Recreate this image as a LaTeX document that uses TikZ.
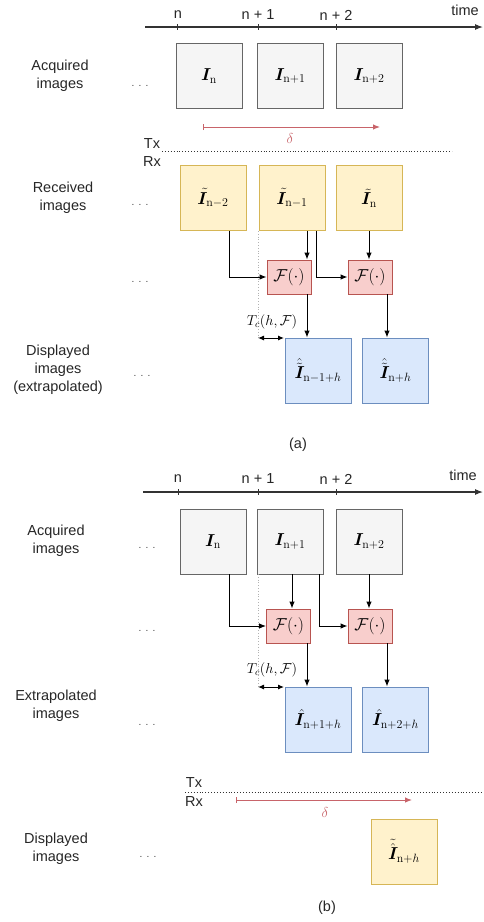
\documentclass[tikz,border=0pt]{standalone}
\usepackage[no-math]{fontspec}
\setmainfont{Liberation Sans}
\usepackage{amsmath,bm}
\usetikzlibrary{arrows.meta}
\definecolor{grayfill}{HTML}{F5F5F5}
\definecolor{grayline}{HTML}{666666}
\definecolor{yelfill}{HTML}{FFF2CC}
\definecolor{yelline}{HTML}{D6B656}
\definecolor{redfill}{HTML}{F8CECC}
\definecolor{redline}{HTML}{B85450}
\definecolor{bluefill}{HTML}{DAE8FC}
\definecolor{blueline}{HTML}{6C8EBF}
\definecolor{deltacol}{HTML}{C8646A}
\newcommand{\bI}{\boldsymbol{I}}
\tikzset{
  img/.style={draw, line width=0.9pt, minimum width=66pt, minimum height=65pt, inner sep=0pt, font=\fontsize{18}{21}\selectfont},
  acq/.style={img, fill=grayfill, draw=grayline},
  rec/.style={img, fill=yelfill, draw=yelline},
  ext/.style={img, fill=bluefill, draw=blueline},
  fbox/.style={draw=redline, fill=redfill, line width=0.9pt, minimum width=44pt, minimum height=34pt, inner sep=0pt, font=\fontsize{17}{20}\selectfont},
  lbl/.style={align=center, font=\fontsize{14.5}{18}\selectfont, text=black!85},
  tick/.style={font=\fontsize{14.5}{17}\selectfont, text=black!85},
  dots/.style={inner sep=0pt, text=black!75},
  conn/.style={line width=1pt, -{Latex[length=7pt,width=5.5pt]}},
  tline/.style={line width=1.1pt, black!80, -{Latex[length=8pt,width=6pt]}},
  delta/.style={line width=1pt, deltacol, {Bar[width=6pt]}-{Latex[length=7pt,width=5.5pt]}},
  txrx/.style={line width=0.9pt, dotted, black!80},
  guide/.style={line width=0.8pt, dotted, black!30},
  tcarrow/.style={line width=1pt, {Latex[length=6pt,width=5pt]}-{Latex[length=6pt,width=5pt]}},
  math/.style={font=\fontsize{14.5}{16}\selectfont}
}
\newcommand{\dd}{\makebox[17pt]{.\hfill.\hfill.}}
\begin{document}
\begin{tikzpicture}[x=1pt,y=-1pt]
\path[use as bounding box] (0,0) rectangle (483,922);

% ================= Panel (a) =================
\coordinate (ta0) at (145,27);
\coordinate (ta1) at (483,27);
\draw[tline] (ta0) -- (ta1);
\foreach \xx in {177,258,336} \draw[line width=1pt, black!80] (\xx,24) -- (\xx,30);
\node[tick] (tna) at (178,15) {n};
\node[tick] (tn1a) at (258,15) {n + 1};
\node[tick] (tn2a) at (336,15) {n + 2};
\node[tick] (timea) at (465,10) {time};

\node[lbl] (labacqa) at (60,76) {Acquired\\images};
\node[dots] (d1a) at (140,86) {\dd};
\node[acq] (a1) at (209,76) {$\bI_{\mathrm{n}}$};
\node[acq] (a2) at (290,76) {$\bI_{\mathrm{n+1}}$};
\node[acq] (a3) at (369,76) {$\bI_{\mathrm{n+2}}$};

\coordinate (dla0) at (203,127);
\coordinate (dla1) at (380,127);
\draw[delta] (dla0) -- (dla1);
\node[math, text=deltacol] (deltaa) at (290,138) {$\delta$};

\node[tick] (txa) at (152,144) {Tx};
\node[tick] (rxa) at (152,162) {Rx};
\coordinate (tra0) at (162,151);
\coordinate (tra1) at (452,151);
\draw[txrx] (tra0) -- (tra1);

\node[lbl] (labreca) at (63,198) {Received\\images};
\node[dots] (d2a) at (140,205) {\dd};
\node[rec] (r1) at (213,198) {$\tilde{\bI}_{\mathrm{n-2}}$};
\node[rec] (r2) at (292,198) {$\tilde{\bI}_{\mathrm{n-1}}$};
\node[rec] (r3) at (369,198) {$\tilde{\bI}_{\mathrm{n}}$};

\node[dots] (d3a) at (140,282) {\dd};
\node[fbox] (f1) at (289,277) {$\mathcal{F}(\cdot)$};
\node[fbox] (f2) at (370,277) {$\mathcal{F}(\cdot)$};

\coordinate (xa1) at (229,0);
\coordinate (xa2) at (307,0);
\coordinate (xa3) at (316,0);
\coordinate (xa4) at (387,0);
\draw[conn] (r1.south -| xa1) |- (f1.west);
\draw[conn] (r2.south -| xa2) -- (f1.north -| xa2);
\draw[conn] (r2.south -| xa3) |- (f2.west);
\draw[conn] (r3.south) -- (r3.south |- f2.north);

\node[ext] (e1) at (318,370.5) {$\hat{\tilde{\bI}}_{\mathrm{n-1+}h}$};
\node[ext] (e2) at (395.5,370.5) {$\hat{\tilde{\bI}}_{\mathrm{n+}h}$};
\draw[conn] (f1.south -| xa2) -- (e1.north -| xa2);
\draw[conn] (f2.south -| xa4) -- (e2.north -| xa4);

\coordinate (ga0) at (258,231);
\coordinate (ga1) at (258,338);
\draw[guide] (ga0) -- (ga1);
\coordinate (tca1) at (284,338);
\draw[tcarrow] (ga1) -- (tca1);
\node[math] (tcla) at (272,322) {$T_c(h,\mathcal{F})$};

\node[lbl] (labdispa) at (58,370) {Displayed\\images\\(extrapolated)};
\node[dots] (d4a) at (142,376) {\dd};
\node[lbl] (capa) at (298,445) {(a)};

% ================= Panel (b) =================
\coordinate (tb0) at (143,492);
\coordinate (tb1) at (483,492);
\draw[tline] (tb0) -- (tb1);
\foreach \xx in {178,258,336} \draw[line width=1pt, black!80] (\xx,489) -- (\xx,495);
\node[tick] (tnb) at (178,479) {n};
\node[tick] (tn1b) at (258,479) {n + 1};
\node[tick] (tn2b) at (336,479) {n + 2};
\node[tick] (timeb) at (463,475) {time};

\node[lbl] (labacqb) at (56,541) {Acquired\\images};
\node[dots] (d1b) at (147,548) {\dd};
\node[acq] (b1) at (213,541.5) {$\bI_{\mathrm{n}}$};
\node[acq] (b2) at (290,541.5) {$\bI_{\mathrm{n+1}}$};
\node[acq] (b3) at (369,541.5) {$\bI_{\mathrm{n+2}}$};

\node[dots] (d2b) at (147,631) {\dd};
\node[fbox] (g1) at (288.5,626) {$\mathcal{F}(\cdot)$};
\node[fbox] (g2) at (370,626) {$\mathcal{F}(\cdot)$};

\coordinate (xb1) at (229,0);
\coordinate (xb2) at (292,0);
\coordinate (xb3) at (319,0);
\coordinate (xb4) at (307,0);
\coordinate (xb5) at (387,0);
\draw[conn] (b1.south -| xb1) |- (g1.west);
\draw[conn] (b2.south -| xb2) -- (g1.north -| xb2);
\draw[conn] (b2.south -| xb3) |- (g2.west);
\draw[conn] (b3.south) -- (b3.south |- g2.north);

\node[ext] (h1) at (318,719.5) {$\hat{\bI}_{\mathrm{n+1+}h}$};
\node[ext] (h2) at (395.5,719.5) {$\hat{\bI}_{\mathrm{n+2+}h}$};
\draw[conn] (g1.south -| xb4) -- (h1.north -| xb4);
\draw[conn] (g2.south -| xb5) -- (h2.north -| xb5);

\coordinate (gb0) at (258,574);
\coordinate (gb1) at (258,687);
\draw[guide] (gb0) -- (gb1);
\coordinate (tcb1) at (284,687);
\draw[tcarrow] (gb1) -- (tcb1);
\node[math] (tclb) at (272,670) {$T_c(h,\mathcal{F})$};

\node[lbl] (labextb) at (56,706) {Extrapolated\\images};
\node[dots] (d3b) at (147,725) {\dd};

\node[tick] (txb) at (194,783) {Tx};
\node[tick] (rxb) at (194,802) {Rx};
\coordinate (trb0) at (185,792);
\coordinate (trb1) at (483,792);
\draw[txrx] (trb0) -- (trb1);
\coordinate (dlb0) at (236,800);
\coordinate (dlb1) at (412,800);
\draw[delta] (dlb0) -- (dlb1);
\node[math, text=deltacol] (deltab) at (325,812) {$\delta$};

\node[lbl] (labdispb) at (56,849) {Displayed\\images};
\node[dots] (d4b) at (148,857) {\dd};
\node[rec] (k1) at (404,851.5) {$\tilde{\hat{\bI}}_{\mathrm{n+}h}$};
\node[lbl] (capb) at (327,908) {(b)};
\end{tikzpicture}
\end{document}
